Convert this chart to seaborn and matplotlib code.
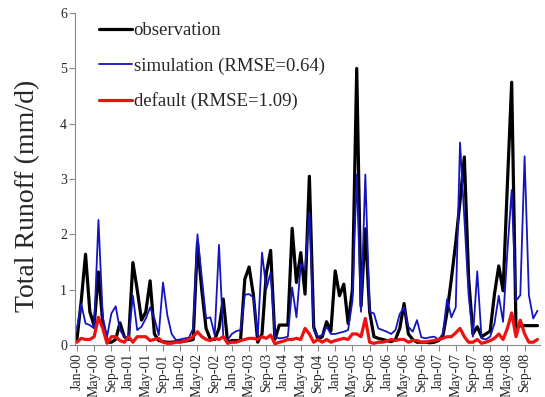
import matplotlib
matplotlib.use('Agg')
import matplotlib.pyplot as plt
import pandas as pd
import numpy as np
import seaborn as sns

# monthly values, Jan-2000 .. Dec-2008 (mm/d)
observation = [
    0.10, 0.80, 1.64, 0.60, 0.35, 1.32, 0.40, 0.05, 0.05, 0.10, 0.40, 0.15,
    0.10, 1.49, 1.00, 0.45, 0.60, 1.16, 0.20, 0.08, 0.06, 0.05, 0.05, 0.06,
    0.06, 0.07, 0.08, 0.10, 1.85, 1.00, 0.30, 0.10, 0.10, 0.30, 0.83, 0.05,
    0.08, 0.08, 0.08, 1.19, 1.41, 0.90, 0.05, 0.20, 1.30, 1.71, 0.10, 0.36,
    0.36, 0.36, 2.11, 1.13, 1.67, 0.92, 3.05, 0.33, 0.10, 0.15, 0.42, 0.25,
    1.34, 0.89, 1.10, 0.39, 1.00, 5.00, 0.70, 2.10, 0.60, 0.15, 0.12, 0.10,
    0.08, 0.06, 0.10, 0.30, 0.75, 0.20, 0.10, 0.05, 0.05, 0.05, 0.04, 0.05,
    0.08, 0.15, 0.60, 1.20, 1.85, 2.60, 3.40, 1.20, 0.20, 0.33, 0.15, 0.20,
    0.25, 0.92, 1.43, 0.98, 2.90, 4.75, 0.30, 0.35, 0.35, 0.35, 0.35, 0.35,
]
simulation = [
    0.30, 0.74, 0.39, 0.36, 0.30, 2.26, 0.50, 0.15, 0.57, 0.70, 0.27, 0.15,
    0.12, 0.89, 0.27, 0.33, 0.48, 0.68, 0.48, 0.18, 1.13, 0.54, 0.20, 0.09,
    0.10, 0.12, 0.13, 0.30, 2.00, 1.22, 0.48, 0.50, 0.18, 1.81, 0.15, 0.09,
    0.20, 0.25, 0.27, 0.91, 0.92, 0.86, 0.15, 1.67, 1.01, 1.31, 0.15, 0.12,
    0.13, 0.15, 1.04, 0.50, 1.46, 1.37, 2.40, 0.27, 0.15, 0.18, 0.33, 0.20,
    0.20, 0.22, 0.24, 0.27, 0.80, 3.08, 0.60, 3.08, 0.60, 0.57, 0.30, 0.27,
    0.24, 0.20, 0.27, 0.56, 0.68, 0.33, 0.24, 0.45, 0.14, 0.12, 0.14, 0.15,
    0.10, 0.20, 0.83, 0.50, 0.68, 3.66, 2.30, 0.90, 0.15, 1.33, 0.12, 0.10,
    0.15, 0.39, 0.89, 0.42, 1.70, 2.80, 0.80, 0.90, 3.41, 0.90, 0.48, 0.62,
]
default = [
    0.05, 0.12, 0.10, 0.10, 0.15, 0.50, 0.30, 0.03, 0.15, 0.15, 0.08, 0.05,
    0.15, 0.05, 0.15, 0.15, 0.15, 0.08, 0.10, 0.12, 0.05, 0.03, 0.03, 0.05,
    0.05, 0.07, 0.10, 0.15, 0.24, 0.15, 0.10, 0.08, 0.12, 0.10, 0.15, 0.03,
    0.05, 0.05, 0.08, 0.10, 0.12, 0.12, 0.10, 0.15, 0.12, 0.18, 0.02, 0.05,
    0.07, 0.10, 0.10, 0.12, 0.10, 0.30, 0.20, 0.05, 0.10, 0.05, 0.10, 0.05,
    0.08, 0.10, 0.12, 0.10, 0.20, 0.20, 0.15, 0.48, 0.05, 0.03, 0.05, 0.05,
    0.07, 0.10, 0.08, 0.10, 0.10, 0.05, 0.08, 0.08, 0.05, 0.05, 0.07, 0.08,
    0.10, 0.12, 0.15, 0.15, 0.22, 0.30, 0.15, 0.05, 0.05, 0.10, 0.03, 0.05,
    0.08, 0.12, 0.20, 0.10, 0.30, 0.58, 0.15, 0.45, 0.20, 0.05, 0.05, 0.10,
]
labels = ['observation', 'simulation (RMSE=0.64)', 'default (RMSE=1.09)']
months = ['Jan', 'May', 'Sep']
years = ['%02d' % y for y in range(0, 9)]
tick_labels = ['%s-%s' % (m, y) for y in years for m in months]

n = len(observation)
month_idx = np.arange(n)

sns.set_style('white')
plt.rcParams['font.family'] = ['Liberation Serif', 'DejaVu Serif']

fig = plt.figure(figsize=(5.45, 3.97), dpi=100)
ax = fig.add_axes([0.138, 0.131, 0.853, 0.836])

sns.lineplot(x=month_idx, y=observation, color='black', linewidth=2.3, ax=ax, label=labels[0])
sns.lineplot(x=month_idx, y=simulation, color='#1414c0', linewidth=1.3, ax=ax, label=labels[1])
sns.lineplot(x=month_idx, y=default, color='#ee1111', linewidth=2.3, ax=ax, label=labels[2])

ax.set_xlim(-0.4, 107.6)
ax.set_ylim(0, 6)
ax.set_yticks(range(0, 7))
ax.set_xticks(np.arange(0, n, 4))
ax.set_xticklabels(tick_labels, rotation=90, fontsize=10)
ax.tick_params(axis='y', labelsize=10)
ax.tick_params(axis='both', direction='out', length=4, color='#888888', width=0.8,
               bottom=True, left=True, pad=2)
ax.set_ylabel('Total Runoff (mm/d)', fontsize=20)
ax.yaxis.set_label_coords(-0.075, 0.45)
ax.set_xlabel('')

sns.despine(ax=ax)
for s in ['left', 'bottom']:
    ax.spines[s].set_color('#888888')
    ax.spines[s].set_linewidth(0.8)

ax.legend(loc='upper left', bbox_to_anchor=(0.035, 0.995), frameon=False, fontsize=13.5,
          handlelength=1.75, handletextpad=0.1, labelspacing=0.95, borderaxespad=0)

fig.savefig('out.png', dpi=100)
